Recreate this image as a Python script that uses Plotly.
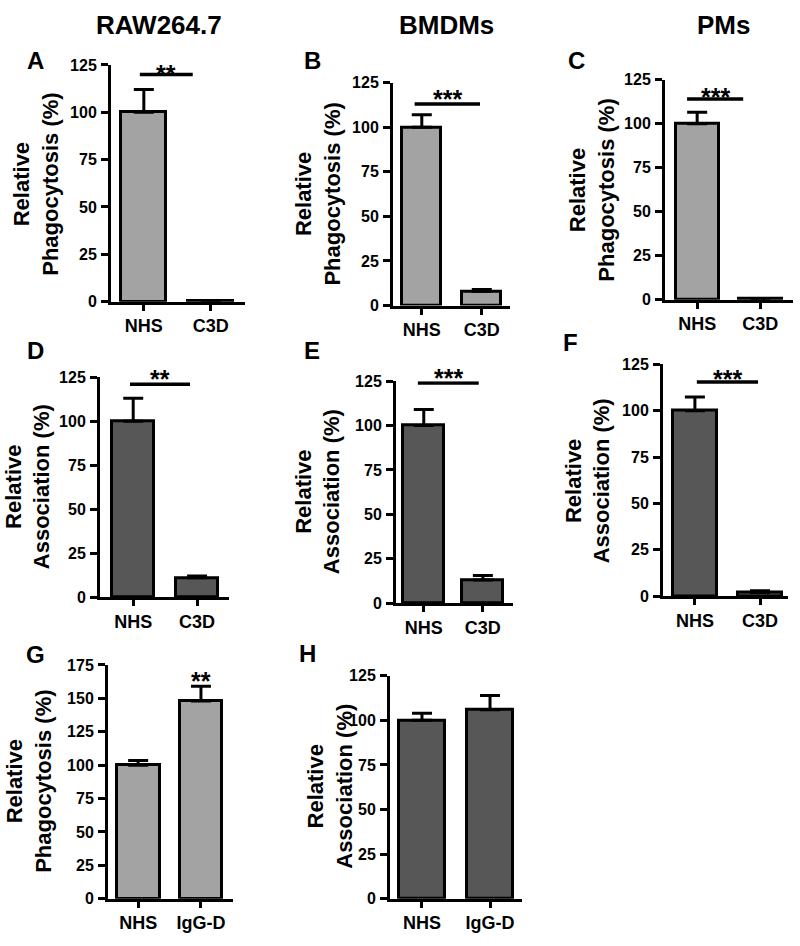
import plotly.graph_objects as go

W, H = 800, 946

# ---------------- data ----------------
cats_c3d = ["NHS", "C3D"]
cats_igg = ["NHS", "IgG-D"]

phago_raw = [100, 0.4]
phago_raw_err = [12, 0]
phago_bmdm = [100, 8]
phago_bmdm_err = [7, 1]
phago_pm = [100, 0.4]
phago_pm_err = [6.5, 0]

assoc_raw = [100, 11]
assoc_raw_err = [13, 1]
assoc_bmdm = [100, 13]
assoc_bmdm_err = [9, 2.5]
assoc_pm = [100, 2]
assoc_pm_err = [7.5, 1]

phago_igg = [100, 148]
phago_igg_err = [3.5, 11]
assoc_igg = [100, 106]
assoc_igg_err = [4, 8]

column_titles = ["RAW264.7", "BMDMs", "PMs"]
ytitle_phago = "Relative<br>Phagocytosis (%)"
ytitle_assoc = "Relative<br>Association (%)"
yticks_125 = [0, 25, 50, 75, 100, 125]
yticks_175 = [0, 25, 50, 75, 100, 125, 150, 175]

# significance: (x0, x1, y_line, label, label_y)
sig_A = (-0.06, 0.73, 120, "**", 124)
sig_B = (-0.12, 0.97, 113, "***", 120)
sig_C = (-0.16, 0.73, 114, "***", 119)
sig_D = (-0.05, 0.89, 121, "**", 128)
sig_E = (-0.10, 0.93, 124, "***", 131)
sig_F = (0.03, 0.97, 115.5, "***", 121)
star_G = (1, 168, "**")

LIGHT = "#a3a3a3"
DARK = "#575757"

# ---------------- layout spec (pixels) ----------------
panels = [
    ("A", cats_c3d, phago_raw, phago_raw_err, LIGHT, ytitle_phago, (111, 245, 58, 299), [-0.49, 1.51], yticks_125, 0.67, (36, 180), (35, 53), sig_A),
    ("B", cats_c3d, phago_bmdm, phago_bmdm_err, LIGHT, ytitle_phago, (393, 510, 76, 303), [-0.48, 1.47], yticks_125, 0.65, (318, 190), (312, 53), sig_B),
    ("C", cats_c3d, phago_pm, phago_pm_err, LIGHT, ytitle_phago, (665, 793, 73, 297), [-0.51, 1.52], yticks_125, 0.68, (592, 186), (576, 53), sig_C),
    ("D", cats_c3d, assoc_raw, assoc_raw_err, DARK, ytitle_assoc, (100, 229, 376, 600), [-0.52, 1.50], yticks_125, 0.66, (28, 488), (35, 349), sig_D),
    ("E", cats_c3d, assoc_bmdm, assoc_bmdm_err, DARK, ytitle_assoc, (396, 513, 380, 606), [-0.47, 1.51], yticks_125, 0.69, (318, 493), (312, 349), sig_E),
    ("F", cats_c3d, assoc_pm, assoc_pm_err, DARK, ytitle_assoc, (663, 788, 363, 599), [-0.49, 1.43], yticks_125, 0.68, (588, 482), (570, 341), sig_F),
    ("G", cats_igg, phago_igg, phago_igg_err, LIGHT, ytitle_phago, (108, 233, 669, 907), [-0.48, 1.51], yticks_175, 0.68, (29, 788), (35, 658), None),
    ("H", cats_igg, assoc_igg, assoc_igg_err, DARK, ytitle_assoc, (390, 522, 680, 907), [-0.47, 1.47], yticks_125, 0.69, (330, 793), (307, 657), None),
]
col_title_pos = [(159, 17), (446, 17), (723, 17)]

FONT = "Liberation Sans, Arial, Helvetica, sans-serif"


def bold(s):
    return "<b>" + s + "</b>"


fig = go.Figure()
annotations = []
shapes = []
layout_axes = {}

for i, (letter, cats, vals, errs, color, ytitle, box, xr, yticks, bw, ytpos, lpos, sig) in enumerate(panels):
    n = "" if i == 0 else str(i + 1)
    xl, xr_px, yt, yb = box
    ymax = yticks[-1]
    fig.add_trace(go.Bar(
        x=list(range(len(cats))), y=vals, width=bw,
        marker=dict(color=color, line=dict(color="black", width=3)),
        error_y=dict(type="data", symmetric=False, array=errs, arrayminus=[0] * len(errs),
                     color="black", thickness=3, width=10),
        xaxis="x" + n, yaxis="y" + n, showlegend=False, hoverinfo="skip",
    ))
    layout_axes["xaxis" + n] = dict(
        domain=[xl / W, xr_px / W], range=xr, anchor="y" + n,
        tickmode="array", tickvals=list(range(len(cats))), ticktext=[bold(c) for c in cats],
        showline=True, linewidth=3, linecolor="black", ticks="outside", ticklen=6,
        tickwidth=3, tickcolor="black", showgrid=False, zeroline=False,
        tickfont=dict(family=FONT, size=18, color="black"),
    )
    layout_axes["yaxis" + n] = dict(
        domain=[1 - yb / H, 1 - yt / H], range=[0, ymax], anchor="x" + n,
        tickmode="array", tickvals=yticks, ticktext=[bold(str(v)) for v in yticks],
        showline=True, linewidth=3, linecolor="black", ticks="outside", ticklen=7,
        tickwidth=3, tickcolor="black", showgrid=False, zeroline=False,
        tickfont=dict(family=FONT, size=16, color="black"),
        ticklabelstandoff=1,
    )
    annotations.append(dict(
        text=bold(ytitle.replace("<br>", "</b><br><b>")), x=ytpos[0] / W, y=1 - ytpos[1] / H,
        xref="paper", yref="paper",
        textangle=-90, showarrow=False, xanchor="center", yanchor="middle",
        font=dict(family=FONT, size=22, color="black"),
    ))
    annotations.append(dict(
        text=bold(letter), x=lpos[0] / W, y=1 - lpos[1] / H, xref="paper", yref="paper",
        showarrow=False, xanchor="center", yanchor="middle",
        font=dict(family=FONT, size=24, color="black"),
    ))
    if sig is not None:
        x0, x1, yl, lab, laby = sig
        shapes.append(dict(type="line", xref="x" + n, yref="y" + n, x0=x0, x1=x1, y0=yl, y1=yl,
                           line=dict(color="black", width=3.5)))
        annotations.append(dict(
            text=bold(lab), x=(x0 + x1) / 2, y=laby / ymax, xref="x" + n, yref="y" + n + " domain",
            showarrow=False, xanchor="center", yanchor="middle", yshift=-7,
            font=dict(family=FONT, size=25, color="black"),
        ))

annotations.append(dict(
    text=bold(star_G[2]), x=star_G[0], y=star_G[1] / yticks_175[-1], xref="x7", yref="y7 domain",
    showarrow=False, xanchor="center", yanchor="middle", yshift=-7,
    font=dict(family=FONT, size=25, color="black"),
))

for t, (px, py) in zip(column_titles, col_title_pos):
    annotations.append(dict(
        text=bold(t), x=px / W, y=1 - py / H, xref="paper", yref="paper",
        showarrow=False, xanchor="center", yanchor="middle",
        font=dict(family=FONT, size=26, color="black"),
    ))

fig.update_layout(
    width=W, height=H, margin=dict(l=0, r=0, t=0, b=0),
    paper_bgcolor="white", plot_bgcolor="white",
    annotations=annotations, shapes=shapes, bargap=0, hovermode=False,
    **layout_axes,
)

post = (
    "var gd=document.getElementById('{plot_id}');"
    "gd.style.position='fixed';gd.style.top='0px';gd.style.left='0px';"
    "document.body.style.margin='0';document.body.style.padding='0';"
    "document.documentElement.style.overflow='hidden';document.body.style.overflow='hidden';"
)
fig.write_html("out.html", config={"displayModeBar": False}, post_script=post)
